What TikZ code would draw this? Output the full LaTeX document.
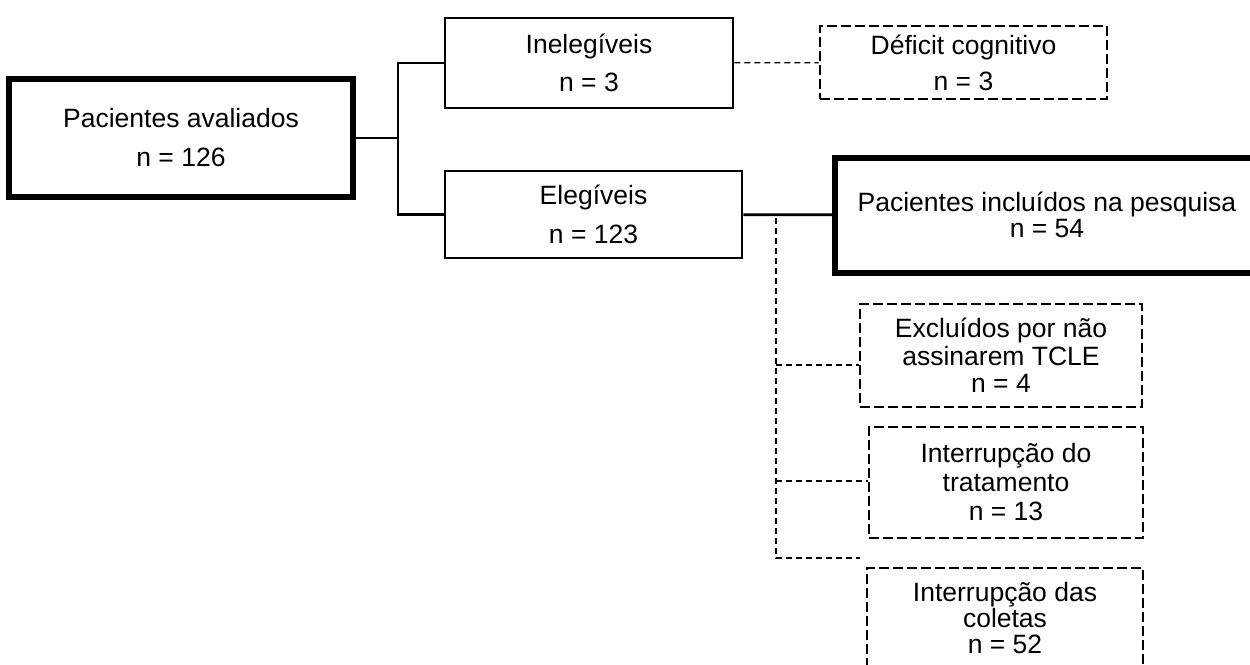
\documentclass[tikz,border=0pt]{standalone}
\usepackage{fontspec}
\setmainfont{Liberation Sans}
\usepackage{tikz}
\newcommand{\corpo}[1]{\fontsize{26.5}{#1}\selectfont\lineskiplimit=-50pt\relax}
\tikzset{caixa/.style = {draw, line width = 2.8pt, align = center, inner sep = 0}}
\tikzset{grossa/.style = {caixa, line width = 6pt}}
\tikzset{tracejada/.style = {caixa, dash pattern = on 10pt off 4pt}}
\tikzset{linha/.style = {line width = 2.8pt}}
\tikzset{fino/.style = {line width = 1.3pt, dash pattern = on 6pt off 4pt}}

\begin{document}
\begin{tikzpicture}[x = 1pt, y = -1pt]
    \useasboundingbox (0, 0) rectangle (1250, 664);
    \node [grossa, minimum width = 344pt, minimum height = 118pt, font = \corpo{39}] (avaliados) at (181, 138) {Pacientes avaliados\\n = 126};
    \node [caixa, minimum width = 288pt, minimum height = 90pt, font = \corpo{38}] (inelegiveis) at (589, 63) {Inelegíveis\\n = 3};
    \node [caixa, minimum width = 297pt, minimum height = 87pt, font = \corpo{39}] (elegiveis) at (593.5, 214.5) {Elegíveis\\n = 123};
    \node [tracejada, minimum width = 287pt, minimum height = 73pt, font = \corpo{36}] (deficit) at (963.5, 62.5) {Déficit cognitivo\\n = 3};
    \node [grossa, minimum width = 424pt, minimum height = 115pt, font = \corpo{26}] (incluidos) at (1047, 215) {Pacientes incluídos na pesquisa\\n = 54};
    \node [tracejada, minimum width = 282pt, minimum height = 103pt, font = \corpo{27.5}] (excluidos) at (1001, 355.5) {Excluídos por não\\assinarem TCLE\\n = 4};
    \node [tracejada, minimum width = 274pt, minimum height = 111pt, font = \corpo{29}] (tratamento) at (1006, 482.5) {Interrupção do\\tratamento\\n = 13};
    \node [tracejada, minimum width = 276pt, minimum height = 100pt, font = \corpo{26}] (coletas) at (1005, 618) {Interrupção das\\coletas\\n = 52};
    % ligacoes
    \coordinate (ramo) at (398, 138);
    \draw [linha] (avaliados) -- (ramo);
    \draw [linha] (inelegiveis) -| (ramo) |- (elegiveis);
    \draw [linha] (elegiveis) -- (incluidos);
    \draw [fino] (inelegiveis) -- (deficit);
    \coordinate (desvio) at (776, 218);
    \coordinate (solta) at (860, 558);
    \coordinate (r1) at (776, 365);
    \coordinate (r2) at (776, 481);
    \draw [fino] (desvio) |- (solta);
    \draw [fino] (r1) -- (r1 -| excluidos.west);
    \draw [fino] (r2) -- (r2 -| tratamento.west);
\end{tikzpicture}
\end{document}
